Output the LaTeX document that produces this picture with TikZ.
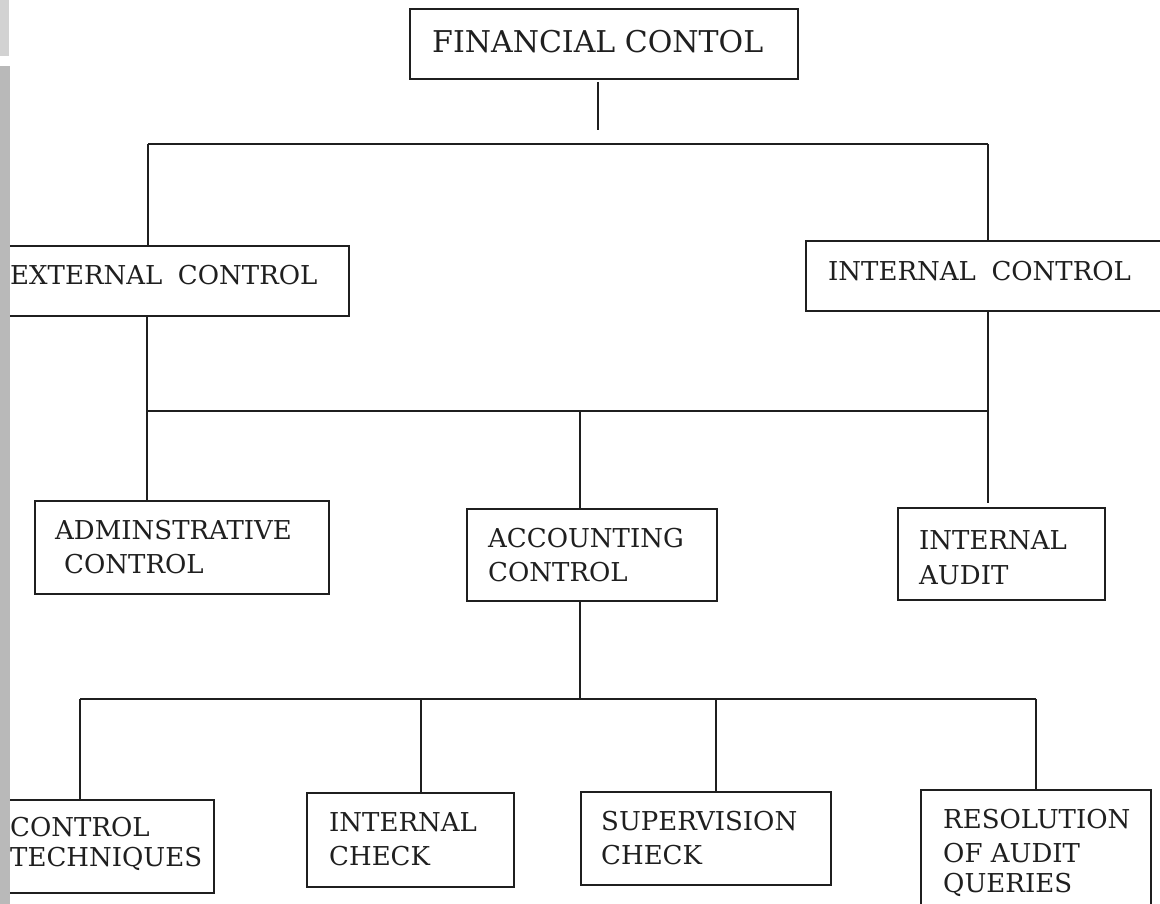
\documentclass[tikz,border=0pt]{standalone}
\usepackage{fontspec}
\setmainfont{DejaVu Serif}
\begin{document}
\begin{tikzpicture}[x=1pt,y=-1pt,
  box/.style={draw=black!88,line width=1.6pt,inner sep=0pt,anchor=north west},
  txt/.style={anchor=base west,inner sep=0pt,text=black!88,font=\fontsize{26}{34}\selectfont},
  bigtxt/.style={anchor=base west,inner sep=0pt,text=black!88,font=\fontsize{30}{38}\selectfont},
  conn/.style={draw=black!88,line width=1.6pt}]
\useasboundingbox (0,0) rectangle (1160,904);
% boxes
\node[box,minimum width=388pt,minimum height=70pt] (fin) at (409,8) {};
\node[box,minimum width=343pt,minimum height=70pt] (ext) at (5,245) {};
\node[box,minimum width=365pt,minimum height=70pt] (int) at (805,240) {};
\node[box,minimum width=294pt,minimum height=93pt] (adm) at (34,500) {};
\node[box,minimum width=250pt,minimum height=92pt] (acc) at (466,508) {};
\node[box,minimum width=207pt,minimum height=92pt] (ia) at (897,507) {};
\node[box,minimum width=208pt,minimum height=93pt] (ct) at (5,799) {};
\node[box,minimum width=207pt,minimum height=94pt] (ic) at (306,792) {};
\node[box,minimum width=250pt,minimum height=93pt] (sc) at (580,791) {};
\node[box,minimum width=230pt,minimum height=125pt] (ra) at (920,789) {};
% texts
\node[bigtxt] (fin-t) at (432,53) {FINANCIAL CONTOL};
\node[txt] (ext-t) at (10,284) {EXTERNAL\hspace{0.6em}CONTROL};
\node[txt] (int-t) at (828,280) {INTERNAL\hspace{0.6em}CONTROL};
\node[txt] (adm-t1) at (55,539) {ADMINSTRATIVE};
\node[txt] (adm-t2) at (64,573) {CONTROL};
\node[txt] (acc-t1) at (488,547) {ACCOUNTING};
\node[txt] (acc-t2) at (488,581) {CONTROL};
\node[txt] (ia-t1) at (919,549) {INTERNAL};
\node[txt] (ia-t2) at (919,584) {AUDIT};
\node[txt] (ct-t1) at (10,836) {CONTROL};
\node[txt] (ct-t2) at (10,866) {TECHNIQUES};
\node[txt] (ic-t1) at (329,831) {INTERNAL};
\node[txt] (ic-t2) at (329,865) {CHECK};
\node[txt] (sc-t1) at (601,830) {SUPERVISION};
\node[txt] (sc-t2) at (601,864) {CHECK};
\node[txt] (ra-t1) at (943,828) {RESOLUTION};
\node[txt] (ra-t2) at (943,862) {OF AUDIT};
\node[txt] (ra-t3) at (943,892) {QUERIES};
% bus coordinates
\coordinate (f1) at (598,82); \coordinate (f2) at (598,130);
\coordinate (b1l) at (148,144); \coordinate (b1r) at (988,144);
\coordinate (b2l) at (147,411); \coordinate (b2m) at (580,411); \coordinate (b2r) at (988,411);
\coordinate (b2e) at (988,503);
\coordinate (b3l) at (80,699); \coordinate (b3a) at (421,699); \coordinate (b3m) at (580,699);
\coordinate (b3b) at (716,699); \coordinate (b3r) at (1036,699);
% connectors
\draw[conn] (f1) -- (f2);
\draw[conn] (b1l) -- (b1r);
\draw[conn] (b1l) -- (b1l |- ext.north);
\draw[conn] (b1r) -- (b1r |- int.north);
\draw[conn] (b2l |- ext.south) -- (b2l);
\draw[conn] (b2r |- int.south) -- (b2r);
\draw[conn] (b2l) -- (b2r);
\draw[conn] (b2l) -- (b2l |- adm.north);
\draw[conn] (b2m) -- (b2m |- acc.north);
\draw[conn] (b2r) -- (b2e);
\draw[conn] (b3m |- acc.south) -- (b3m);
\draw[conn] (b3l) -- (b3r);
\draw[conn] (b3l) -- (b3l |- ct.north);
\draw[conn] (b3a) -- (b3a |- ic.north);
\draw[conn] (b3b) -- (b3b |- sc.north);
\draw[conn] (b3r) -- (b3r |- ra.north);
% scanned page edge
\fill[gray!35] (0,0) rectangle (9,56);
\fill[gray!55] (0,66) rectangle (10,904);
\end{tikzpicture}
\end{document}
